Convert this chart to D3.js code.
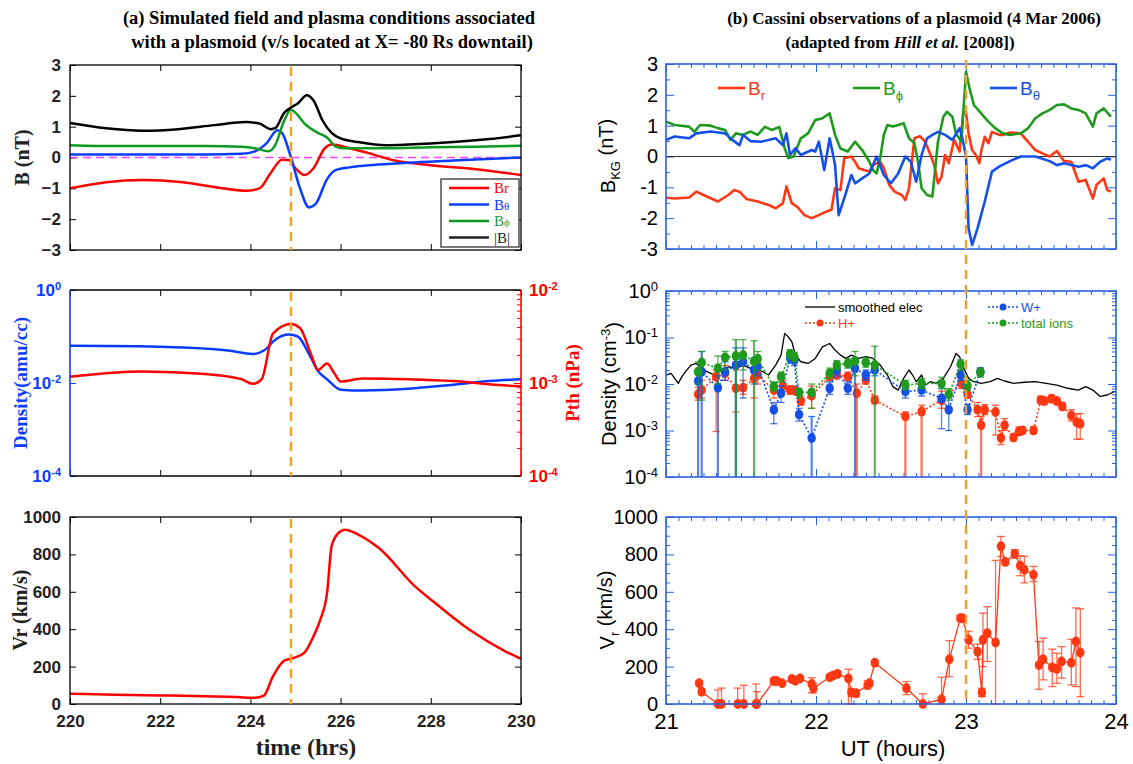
<!DOCTYPE html>
<html>
<head>
<meta charset="utf-8">
<script src="https://cdn.jsdelivr.net/npm/d3@7"></script>
<style>
  body { margin: 0; background: #fff; }
  svg { display: block; }
</style>
</head>
<body>
<div id="chart"></div>
<script>
// ---- (a) simulation, hours 220-230 ----
const simBr = [[220,-1.0],[220.8,-0.8],[221.6,-0.73],[222.5,-0.8],[223.3,-0.98],[223.9,-1.08],[224.2,-1.0],[224.45,-0.5],[224.7,-0.07],[224.85,-0.08],[225.0,-0.35],[225.2,-0.57],[225.4,-0.35],[225.65,0.3],[225.8,0.42],[226.2,0.3],[226.6,0.15],[227.2,-0.1],[228,-0.25],[229,-0.38],[230,-0.57]];
const simBtheta = [[220,0.1],[221,0.1],[222,0.1],[223,0.1],[223.8,0.12],[224.1,0.2],[224.35,0.45],[224.6,0.88],[224.7,0.8],[224.9,0.0],[225.1,-1.0],[225.3,-1.62],[225.45,-1.5],[225.7,-0.7],[225.9,-0.4],[226.2,-0.32],[226.5,-0.27],[227.5,-0.17],[228.5,-0.1],[229.5,-0.03],[230,0.0]];
const simBphi = [[220,0.4],[221,0.37],[222,0.37],[223,0.37],[223.8,0.35],[224.1,0.3],[224.4,0.2],[224.55,0.4],[224.75,1.2],[224.9,1.55],[225.0,1.45],[225.2,1.1],[225.5,0.8],[225.7,0.65],[225.9,0.35],[226.1,0.3],[227,0.3],[228,0.33],[229,0.35],[230,0.38]];
const simBmag = [[220,1.12],[220.8,0.95],[221.6,0.87],[222.4,0.92],[223.2,1.05],[223.9,1.15],[224.2,1.1],[224.45,0.92],[224.55,0.95],[224.75,1.45],[224.9,1.62],[225.05,1.75],[225.25,2.02],[225.4,1.85],[225.6,1.2],[225.8,0.8],[226.0,0.62],[226.4,0.5],[227.0,0.4],[227.5,0.42],[228.5,0.5],[229.3,0.6],[230,0.72]];
const simDensity = [[220,0.063],[221.5,0.062],[222.5,0.058],[223.5,0.05],[224.05,0.042],[224.3,0.05],[224.55,0.085],[224.85,0.11],[225.05,0.1],[225.3,0.042],[225.5,0.018],[225.7,0.012],[226.0,0.0072],[226.5,0.0069],[227.5,0.0075],[228.5,0.0092],[229.3,0.011],[230,0.012]];
const simPth = [[220,1.17e-3],[221.6,1.33e-3],[223,1.25e-3],[223.8,1.1e-3],[224.05,0.98e-3],[224.25,1.1e-3],[224.5,3.4e-3],[224.9,4.3e-3],[225.1,3.9e-3],[225.35,2.0e-3],[225.5,1.38e-3],[225.7,1.62e-3],[225.85,1.3e-3],[226.0,1.04e-3],[226.5,1.12e-3],[227.5,1.1e-3],[228.5,1.05e-3],[229.5,0.95e-3],[230,0.92e-3]];
const simVr = [[220,55],[221,50],[222,46],[223,42],[223.7,37],[224.1,33],[224.3,45],[224.5,148],[224.75,232],[224.95,246],[225.2,275],[225.4,362],[225.55,451],[225.7,594],[225.8,843],[225.95,914],[226.1,932],[226.4,905],[226.85,834],[227.65,629],[228.05,549],[228.85,398],[229.65,282],[230,242]];
const simEventHour = 224.9;
const simHourTicks = [220,222,224,226,228,230];

// ---- (b) Cassini, UT hours 21-24 ----
const obsBr = [[21.0,-1.34],[21.058,-1.36],[21.154,-1.33],[21.202,-1.14],[21.25,-1.25],[21.346,-1.46],[21.418,-1.24],[21.454,-1.09],[21.49,-1.14],[21.538,-1.38],[21.611,-1.46],[21.683,-1.57],[21.731,-1.68],[21.779,-1.52],[21.803,-0.97],[21.839,-1.52],[21.875,-1.63],[21.923,-1.9],[21.971,-2.0],[22.019,-1.9],[22.067,-1.79],[22.103,-1.73],[22.127,-1.03],[22.163,-1.09],[22.188,-0.06],[22.236,0.0],[22.26,-0.17],[22.284,-0.38],[22.32,-0.44],[22.356,-0.49],[22.38,-0.28],[22.428,-0.17],[22.452,-0.38],[22.488,-0.92],[22.524,-1.14],[22.572,-1.25],[22.596,-1.41],[22.62,-1.03],[22.656,0.59],[22.692,0.66],[22.728,0.48],[22.764,0.05],[22.788,-0.28],[22.813,-0.87],[22.837,-0.65],[22.861,0.05],[22.885,-0.22],[22.921,0.54],[22.957,0.16],[22.981,1.4],[23.0,1.45],[23.017,0.75],[23.041,0.21],[23.065,0.05],[23.089,-0.22],[23.101,0.16],[23.125,0.64],[23.149,0.43],[23.173,0.8],[23.221,0.7],[23.245,0.7],[23.293,0.78],[23.365,0.75],[23.413,0.48],[23.462,0.21],[23.51,0.1],[23.558,0.0],[23.606,0.18],[23.654,-0.15],[23.702,-0.17],[23.75,-0.82],[23.798,-0.76],[23.846,-1.36],[23.87,-0.92],[23.918,-0.71],[23.942,-1.09],[23.966,-1.14]];
const obsBtheta = [[21.0,0.54],[21.058,0.65],[21.154,0.59],[21.202,0.75],[21.298,0.81],[21.394,0.75],[21.442,0.54],[21.49,0.37],[21.514,0.7],[21.562,0.5],[21.635,0.48],[21.731,0.59],[21.779,0.37],[21.803,0.75],[21.827,0.05],[21.863,0.27],[21.899,0.05],[21.971,0.21],[21.995,0.16],[22.019,0.48],[22.055,-0.44],[22.091,0.59],[22.127,-0.27],[22.151,-1.9],[22.188,-1.36],[22.236,-0.6],[22.26,-0.87],[22.308,-0.71],[22.356,-0.55],[22.404,0.0],[22.452,-0.6],[22.5,-0.87],[22.548,-0.55],[22.596,0.0],[22.632,-0.17],[22.668,-0.82],[22.704,0.05],[22.74,0.59],[22.776,0.7],[22.813,0.8],[22.861,0.7],[22.909,0.54],[22.957,0.92],[22.981,0.48],[23.0,0.0],[23.017,-2.33],[23.041,-2.87],[23.077,-2.33],[23.125,-1.46],[23.173,-0.49],[23.221,-0.33],[23.293,-0.15],[23.365,0.0],[23.462,0.0],[23.558,-0.15],[23.606,-0.28],[23.654,-0.22],[23.75,-0.33],[23.798,-0.28],[23.846,-0.38],[23.894,-0.17],[23.942,-0.06],[23.966,-0.11]];
const obsBphi = [[21.0,1.13],[21.058,1.02],[21.154,0.97],[21.19,0.8],[21.226,1.02],[21.298,1.0],[21.346,0.92],[21.394,0.86],[21.43,0.54],[21.466,0.75],[21.514,0.7],[21.562,0.81],[21.611,0.7],[21.659,0.96],[21.707,0.86],[21.755,0.96],[21.791,0.27],[21.815,-0.05],[21.851,0.0],[21.899,0.59],[21.947,0.75],[21.995,1.18],[22.043,1.24],[22.091,1.4],[22.127,0.7],[22.163,0.26],[22.212,0.16],[22.26,0.48],[22.308,0.21],[22.356,-0.17],[22.38,-0.44],[22.404,-0.55],[22.428,-0.06],[22.452,0.7],[22.476,1.02],[22.512,0.97],[22.548,1.02],[22.584,1.08],[22.62,0.59],[22.656,0.43],[22.68,-0.17],[22.704,-1.03],[22.74,-1.25],[22.776,-1.3],[22.813,0.48],[22.849,1.29],[22.873,1.45],[22.909,1.29],[22.933,0.75],[22.969,0.48],[23.0,2.75],[23.024,2.2],[23.053,1.67],[23.101,1.4],[23.149,1.13],[23.197,0.91],[23.245,0.75],[23.293,0.7],[23.365,0.75],[23.413,0.91],[23.462,1.24],[23.51,1.4],[23.558,1.51],[23.606,1.67],[23.654,1.69],[23.702,1.56],[23.75,1.51],[23.798,1.4],[23.846,0.97],[23.87,1.4],[23.918,1.56],[23.966,1.29]];
const obsElec = [[21.0,0.0156],[21.034,0.0169],[21.058,0.0132],[21.082,0.0103],[21.106,0.0144],[21.13,0.0184],[21.166,0.0255],[21.202,0.0277],[21.238,0.0217],[21.274,0.0184],[21.322,0.0156],[21.37,0.02],[21.418,0.0235],[21.466,0.0217],[21.514,0.0255],[21.562,0.0217],[21.611,0.02],[21.647,0.0184],[21.683,0.0156],[21.731,0.0255],[21.767,0.0418],[21.791,0.122],[21.815,0.103],[21.839,0.081],[21.863,0.0418],[21.899,0.0301],[21.947,0.0277],[21.995,0.0355],[22.043,0.063],[22.091,0.0743],[22.127,0.0536],[22.163,0.0418],[22.2,0.0355],[22.236,0.0418],[22.284,0.0355],[22.332,0.0386],[22.38,0.0355],[22.428,0.0255],[22.476,0.0156],[22.512,0.0088],[22.548,0.0074],[22.584,0.0132],[22.62,0.02],[22.644,0.0156],[22.668,0.0112],[22.704,0.0156],[22.728,0.0095],[22.764,0.0112],[22.8,0.0103],[22.849,0.0132],[22.897,0.0235],[22.933,0.0454],[22.957,0.0386],[22.981,0.0235],[23.017,0.0132],[23.053,0.0112],[23.101,0.0103],[23.161,0.0112],[23.209,0.0132],[23.257,0.0116],[23.317,0.0103],[23.389,0.0109],[23.462,0.0112],[23.534,0.0103],[23.606,0.0095],[23.678,0.0081],[23.75,0.0074],[23.798,0.0088],[23.846,0.0074],[23.894,0.0054],[23.942,0.0058],[23.99,0.0069]];
// [hour, density, lower, upper]
const obsHplus = [[21.214,0.006,0.0045,0.0085],[21.238,0.0074,0.005,0.012],[21.334,0.0144,0.00095,0.02],[21.394,0.017,0.012,0.025],[21.466,0.0081,0.0025,0.02],[21.514,0.0083,0.006,0.012],[21.587,0.0132,0.005,0.02],[21.611,0.0156,0.01,0.02],[21.719,0.0074,0.005,0.01],[21.779,0.0092,0.007,0.012],[21.827,0.0074,0.006,0.009],[21.863,0.0071,0.006,0.009],[21.899,0.0043,0.0035,0.0055],[21.971,0.0056,0.003,0.009],[22.091,0.0144,0.012,0.018],[22.139,0.0156,0.013,0.019],[22.212,0.0144,0.012,0.018],[22.272,0.0063,0.00001,0.01],[22.332,0.0122,0.01,0.015],[22.392,0.0045,0.0038,0.0055],[22.596,0.002,0.00001,0.0025],[22.704,0.00255,0.00001,0.0035],[22.837,0.0045,0.003,0.007],[22.969,0.0103,0.008,0.014],[23.01,0.006,0.005,0.0075],[23.077,0.0028,0.002,0.004],[23.101,0.0013,0.00001,0.002],[23.125,0.0028,0.0022,0.0036],[23.197,0.0025,0.0008,0.0035],[23.233,0.00069,0.0005,0.001],[23.257,0.0013,0.001,0.0018],[23.317,0.00071,0.0006,0.00085],[23.353,0.00095,0.0008,0.0012],[23.377,0.001,0.00085,0.0012],[23.45,0.001,0.00085,0.0012],[23.498,0.0045,0.0038,0.0055],[23.522,0.0043,0.0036,0.005],[23.57,0.0048,0.004,0.0058],[23.606,0.0043,0.0036,0.005],[23.642,0.0033,0.0028,0.004],[23.702,0.0021,0.0016,0.0028],[23.738,0.0015,0.00065,0.0023],[23.762,0.0014,0.00065,0.0023]];
const obsWplus = [[21.214,0.0116,0.00001,0.02],[21.238,0.0184,0.00001,0.05],[21.346,0.0083,0.00001,0.015],[21.394,0.0184,0.012,0.03],[21.466,0.0255,0.00001,0.06],[21.514,0.03,0.005,0.06],[21.587,0.02,0.01,0.03],[21.611,0.0235,0.015,0.035],[21.719,0.0028,0.0014,0.004],[21.767,0.0063,0.004,0.009],[21.827,0.0367,0.028,0.045],[21.856,0.0326,0.025,0.04],[21.887,0.0022,0.0016,0.003],[21.971,0.00069,0.00001,0.002],[22.091,0.0081,0.006,0.011],[22.139,0.02,0.015,0.025],[22.212,0.0081,0.006,0.011],[22.26,0.0217,0.00001,0.03],[22.332,0.0156,0.012,0.02],[22.392,0.02,0.015,0.025],[22.596,0.0069,0.005,0.009],[22.704,0.0074,0.0055,0.0095],[22.837,0.0049,0.0011,0.008],[22.885,0.0028,0.001,0.005],[22.964,0.0156,0.012,0.02],[23.01,0.0028,0.0022,0.0036],[23.096,0.0184,0.015,0.022]];
const obsIons = [[21.214,0.0184,0.01,0.03],[21.238,0.029,0.0045,0.05],[21.346,0.0217,0.01,0.04],[21.394,0.0373,0.02,0.05],[21.466,0.04,0.00001,0.09],[21.514,0.0418,0.02,0.09],[21.587,0.031,0.00001,0.085],[21.611,0.035,0.02,0.05],[21.719,0.0088,0.007,0.011],[21.767,0.0144,0.011,0.018],[21.827,0.044,0.035,0.055],[21.856,0.0386,0.03,0.048],[21.887,0.0066,0.005,0.008],[21.971,0.0066,0.003,0.01],[22.091,0.017,0.013,0.022],[22.139,0.0255,0.02,0.032],[22.212,0.0277,0.022,0.035],[22.26,0.031,0.015,0.05],[22.332,0.029,0.023,0.036],[22.392,0.0255,0.00001,0.065],[22.596,0.0095,0.0075,0.012],[22.704,0.0103,0.008,0.013],[22.837,0.0103,0.008,0.014],[22.885,0.006,0.0045,0.008],[22.964,0.0265,0.02,0.033],[23.01,0.0092,0.007,0.012],[23.096,0.0176,0.014,0.022]];
// [hour, Vr, lower, upper]
const obsVr = [[21.221,111,100,125],[21.238,66,50,80],[21.346,0,0,75],[21.37,0,0,85],[21.478,0,0,85],[21.519,0,0,100],[21.599,0,0,107],[21.606,0,0,66],[21.719,123,110,135],[21.738,123,110,135],[21.774,111,100,120],[21.839,134,120,145],[21.863,125,115,135],[21.894,137,125,148],[21.971,107,60,140],[21.983,84,60,110],[22.091,143,130,155],[22.115,152,140,165],[22.144,161,150,172],[22.216,137,0,186],[22.236,61,0,80],[22.267,57,40,75],[22.344,102,80,125],[22.356,111,95,125],[22.392,221,210,232],[22.603,84,50,120],[22.712,0,0,55],[22.837,25,0,143],[22.889,239,146,339],[22.962,459,445,473],[22.976,459,445,473],[23.017,343,298,389],[23.077,280,239,320],[23.106,61,39,84],[23.113,343,200,486],[23.142,379,227,520],[23.197,329,0,768],[23.233,843,789,896],[23.262,759,748,771],[23.325,804,780,825],[23.361,739,686,793],[23.389,718,648,790],[23.45,691,655,736],[23.486,209,79,334],[23.514,239,129,352],[23.575,195,93,293],[23.606,188,111,271],[23.637,227,138,307],[23.702,221,102,346],[23.733,334,93,514],[23.762,275,39,509]];
const obsEventHour = 23.0;
const obsHourTicks = [21,22,23,24];

// ---- layout ----
const W = 1133, H = 764;
const svg = d3.select('#chart').append('svg').attr('width', W).attr('height', H);

const SERIF_B = 'font-family:"Liberation Serif","Times New Roman",serif;font-weight:bold;';
const SANS = 'font-family:"Liberation Sans",Arial,sans-serif;';
const RED = '#ff0000', BLUE = '#0a3cff', GREEN = '#0c9a20', ORANGE = '#f5a01e';
const ORED = '#ff3814', OGREEN = '#1f9a1f', OBLUE = '#1450e6', FRAME = '#2a62e0';

const xL = d3.scaleLinear().domain([220, 230]).range([70, 521]);
const xR = d3.scaleLinear().domain([21, 24]).range([666, 1116]);
const rowsL = [[65, 250], [290, 476], [517, 704]];
const rowsR = [[64, 249], [291, 477], [517, 704]];
const intFmt = d3.format('d');

function axisG(axis, tx, ty, color, textStyle, textColor) {
  const g = svg.append('g').attr('transform', `translate(${tx},${ty})`).call(axis);
  g.select('.domain').remove();
  g.selectAll('.tick line').attr('stroke', color).attr('stroke-width', 1);
  g.selectAll('.tick text').attr('style', textStyle).attr('fill', textColor || '#000');
  return g;
}

function pow10Labels(g, supSize) {
  g.selectAll('.tick text').each(function (d) {
    const e = Math.round(Math.log10(d));
    const t = d3.select(this).text(null);
    t.append('tspan').text('10');
    t.append('tspan').attr('dy', '-0.55em').style('font-size', supSize + 'px').text(e === 0 ? '0' : '-' + Math.abs(e));
  });
}

function minorLog(lo, hi) {
  const v = [];
  for (let e = lo; e < hi; e++) for (let m = 2; m <= 9; m++) v.push(m * Math.pow(10, e));
  return v;
}

function drawLine(data, x, y, color, width, curve, dash) {
  svg.append('path').datum(data)
    .attr('fill', 'none').attr('stroke', color).attr('stroke-width', width)
    .attr('stroke-linejoin', 'round')
    .attr('stroke-dasharray', dash || null)
    .attr('d', d3.line().x(d => x(d[0])).y(d => y(d[1])).curve(curve || d3.curveLinear));
}

function rotLabel(x, y, style, fill) {
  return svg.append('text').attr('transform', `translate(${x},${y}) rotate(-90)`)
    .attr('text-anchor', 'middle').attr('style', style).attr('fill', fill || '#000');
}

// ---- titles ----
[['(a) Simulated field and plasma conditions associated', 329, 24],
 ['with a plasmoid (v/s located at X= -80 Rs downtail)', 332, 48]].forEach(([t, x, y]) =>
  svg.append('text').attr('x', x).attr('y', y).attr('text-anchor', 'middle')
    .attr('style', SERIF_B + 'font-size:18.5px;').text(t));
svg.append('text').attr('x', 914).attr('y', 24).attr('text-anchor', 'middle')
  .attr('style', SERIF_B + 'font-size:17px;').text('(b) Cassini observations of a plasmoid (4 Mar 2006)');
const t2 = svg.append('text').attr('x', 900).attr('y', 48).attr('text-anchor', 'middle')
  .attr('style', SERIF_B + 'font-size:17px;');
t2.append('tspan').text('(adapted from ');
t2.append('tspan').style('font-style', 'italic').text('Hill et al.');
t2.append('tspan').text(' [2008])');

// ---- left panels common ----
const LT = SANS + 'font-weight:bold;font-size:17px;';
const simCurve = d3.curveMonotoneX;

rowsL.forEach(([top, bot], i) => {
  axisG(d3.axisBottom(xL).tickValues(simHourTicks).tickSize(-6).tickPadding(11)
    .tickFormat(i === 2 ? intFmt : ''), 0, bot, '#000', LT, '#222');
  axisG(d3.axisTop(xL).tickValues(simHourTicks).tickSize(-6).tickFormat(''), 0, top, '#000', LT);
});

// panel a1: B
const yB = d3.scaleLinear().domain([-3, 3]).range([250, 65]);
axisG(d3.axisLeft(yB).tickValues(d3.range(-3, 4)).tickSize(-6).tickPadding(9).tickFormat(intFmt), 70, 0, '#000', LT, '#222');
axisG(d3.axisRight(yB).tickValues(d3.range(-3, 4)).tickSize(-6).tickFormat(''), 521, 0, '#000', LT);
svg.append('line').attr('x1', 70).attr('x2', 521).attr('y1', yB(0)).attr('y2', yB(0))
  .attr('stroke', '#ff44ff').attr('stroke-width', 1.6).attr('stroke-dasharray', '8,5');
drawLine(simBr, xL, yB, RED, 2.5, simCurve);
drawLine(simBtheta, xL, yB, BLUE, 2.5, simCurve);
drawLine(simBphi, xL, yB, GREEN, 2.5, simCurve);
drawLine(simBmag, xL, yB, '#000', 2.5, simCurve);
svg.append('rect').attr('x', 70).attr('y', 65).attr('width', 451).attr('height', 185)
  .attr('fill', 'none').attr('stroke', '#000').attr('stroke-width', 1.3);
rotLabel(22, yB(0), SERIF_B + 'font-size:20px;', '#222').attr('dy', '0.35em').text('B (nT)');

// legend a1
const leg = svg.append('g');
leg.append('rect').attr('x', 441).attr('y', 179).attr('width', 78).attr('height', 68)
  .attr('fill', '#fff').attr('stroke', '#222').attr('stroke-width', 1.2);
[['B', 'r', RED], ['B', 'θ', BLUE], ['B', 'ϕ', '#1a9a4a'], ['|B|', '', '#222']].forEach(([b, s, c], k) => {
  const y = 188 + k * 16.5;
  leg.append('line').attr('x1', 449).attr('x2', 489).attr('y1', y).attr('y2', y)
    .attr('stroke', c === '#1a9a4a' ? GREEN : c).attr('stroke-width', 2.5);
  const t = leg.append('text').attr('x', 494).attr('y', y + 5)
    .attr('style', 'font-family:"Liberation Serif","Times New Roman",serif;font-size:15px;').attr('fill', c);
  t.append('tspan').text(b);
  if (s) t.append('tspan').style('font-size', s === 'r' ? '15px' : '11px').text(s);
});

// panel a2: density / Pth
const yDen = d3.scaleLog().domain([1e-4, 1]).range([476, 290]);
const yPth = d3.scaleLog().domain([1e-4, 1e-2]).range([476, 290]);
const gdl = axisG(d3.axisLeft(yDen).tickValues([1e-4, 1e-2, 1]).tickSize(-6).tickPadding(9), 70, 0, BLUE, LT, BLUE);
pow10Labels(gdl, 11);
const gpr = axisG(d3.axisRight(yPth).tickValues([1e-4, 1e-3, 1e-2]).tickSize(-7).tickPadding(8), 521, 0, RED, LT, RED);
pow10Labels(gpr, 11);
axisG(d3.axisRight(yPth).tickValues(minorLog(-4, -2)).tickSize(-4).tickFormat(''), 521, 0, RED, LT);
drawLine(simDensity, xL, yDen, BLUE, 2.5, simCurve);
drawLine(simPth, xL, yPth, RED, 2.5, simCurve);
svg.append('line').attr('x1', 70).attr('x2', 521).attr('y1', 290).attr('y2', 290).attr('stroke', '#000').attr('stroke-width', 1.3);
svg.append('line').attr('x1', 70).attr('x2', 521).attr('y1', 476).attr('y2', 476).attr('stroke', '#000').attr('stroke-width', 1.3);
svg.append('line').attr('x1', 70).attr('x2', 70).attr('y1', 290).attr('y2', 476).attr('stroke', BLUE).attr('stroke-width', 1.6);
svg.append('line').attr('x1', 521).attr('x2', 521).attr('y1', 290).attr('y2', 476).attr('stroke', RED).attr('stroke-width', 1.6);
rotLabel(20, 383, SERIF_B + 'font-size:19px;', BLUE).attr('dy', '0.35em').text('Density(amu/cc)');
rotLabel(572, 383, SERIF_B + 'font-size:19px;', RED).attr('dy', '0.35em').text('Pth (nPa)');

// panel a3: Vr
const yV = d3.scaleLinear().domain([0, 1000]).range([704, 517]);
axisG(d3.axisLeft(yV).tickValues(d3.range(0, 1001, 200)).tickSize(-6).tickPadding(9).tickFormat(intFmt), 70, 0, '#000', LT, '#222');
axisG(d3.axisRight(yV).tickValues(d3.range(0, 1001, 200)).tickSize(-6).tickFormat(''), 521, 0, '#000', LT);
drawLine(simVr, xL, yV, RED, 2.5, simCurve);
svg.append('rect').attr('x', 70).attr('y', 517).attr('width', 451).attr('height', 187)
  .attr('fill', 'none').attr('stroke', '#000').attr('stroke-width', 1.3);
rotLabel(20, 610, SERIF_B + 'font-size:20px;', '#222').attr('dy', '0.35em').text('Vr (km/s)');
svg.append('text').attr('x', 306).attr('y', 755).attr('text-anchor', 'middle')
  .attr('style', SERIF_B + 'font-size:24px;').attr('fill', '#222').text('time (hrs)');

// orange event line, left (per panel)
rowsL.forEach(([top, bot]) => {
  svg.append('line').attr('x1', xL(simEventHour)).attr('x2', xL(simEventHour)).attr('y1', top + 2).attr('y2', bot)
    .attr('stroke', ORANGE).attr('stroke-width', 2.4).attr('stroke-dasharray', '9,6');
});

// ---- right panels common ----
const RT = SANS + 'font-size:20px;';
const minorHours = d3.range(0, 37).map(i => 21 + i / 12);
rowsR.forEach(([top, bot], i) => {
  axisG(d3.axisBottom(xR).tickValues(minorHours).tickSize(-4).tickFormat(''), 0, bot, FRAME, RT);
  axisG(d3.axisTop(xR).tickValues(minorHours).tickSize(-4).tickFormat(''), 0, top, FRAME, RT);
  axisG(d3.axisBottom(xR).tickValues(obsHourTicks).tickSize(-8).tickPadding(9)
    .tickFormat(i === 2 ? intFmt : ''), 0, bot, FRAME, SANS + 'font-size:22px;', '#000');
  axisG(d3.axisTop(xR).tickValues(obsHourTicks).tickSize(-8).tickFormat(''), 0, top, FRAME, RT);
});

function rightY(scale, major, minor, fmt) {
  const g = axisG(d3.axisLeft(scale).tickValues(major).tickSize(-8).tickPadding(8).tickFormat(fmt || null), 666, 0, FRAME, RT, '#000');
  axisG(d3.axisRight(scale).tickValues(major).tickSize(-8).tickFormat(''), 1116, 0, FRAME, RT);
  axisG(d3.axisLeft(scale).tickValues(minor).tickSize(-4).tickFormat(''), 666, 0, FRAME, RT);
  axisG(d3.axisRight(scale).tickValues(minor).tickSize(-4).tickFormat(''), 1116, 0, FRAME, RT);
  return g;
}
function rightFrame(top, bot) {
  svg.append('rect').attr('x', 666).attr('y', top).attr('width', 450).attr('height', bot - top)
    .attr('fill', 'none').attr('stroke', FRAME).attr('stroke-width', 1.6);
}

// panel b1: B_KG
const yBo = d3.scaleLinear().domain([-3, 3]).range([249, 64]);
rightY(yBo, d3.range(-3, 4), d3.range(-2.5, 3, 1), d => intFmt(d).replace('−', '-'));
svg.append('line').attr('x1', 666).attr('x2', 1116).attr('y1', yBo(0)).attr('y2', yBo(0)).attr('stroke', '#333').attr('stroke-width', 1);
drawLine(obsBr, xR, yBo, ORED, 2.6);
drawLine(obsBphi, xR, yBo, OGREEN, 2.6);
drawLine(obsBtheta, xR, yBo, OBLUE, 2.6);
rightFrame(64, 249);
const bl = rotLabel(608, 156, SANS + 'font-size:20px;').attr('dy', '0.35em');
bl.append('tspan').text('B');
bl.append('tspan').attr('dy', '0.35em').style('font-size', '13px').text('KG');
bl.append('tspan').attr('dy', '-0.35em').text(' (nT)');
[['r', ORED, 718], ['ϕ', OGREEN, 853], ['θ', OBLUE, 990]].forEach(([s, c, x]) => {
  svg.append('line').attr('x1', x).attr('x2', x + 27).attr('y1', 88).attr('y2', 88).attr('stroke', c).attr('stroke-width', 2.6);
  const t = svg.append('text').attr('x', x + 30).attr('y', 95).attr('fill', c).attr('style', SANS + 'font-size:19px;');
  t.append('tspan').text('B');
  t.append('tspan').attr('dy', '0.35em').style('font-size', '13px').text(s);
});

// panel b2: density
const yDo = d3.scaleLog().domain([1e-4, 1]).range([477, 291]).clamp(true);
const gdo = rightY(yDo, [1e-4, 1e-3, 1e-2, 1e-1, 1], minorLog(-4, 0));
pow10Labels(gdo, 13);
drawLine(obsElec, xR, yDo, '#000', 1.3);
function ionSeries(data, color) {
  const g = svg.append('g');
  g.selectAll('line.err').data(data).join('line')
    .attr('x1', d => xR(d[0])).attr('x2', d => xR(d[0]))
    .attr('y1', d => yDo(d[2])).attr('y2', d => yDo(d[3]))
    .attr('stroke', color).attr('stroke-width', d => d[2] < 1e-4 ? 2.2 : 1.3).attr('opacity', 0.7);
  g.selectAll('line.cap').data(data.flatMap(d => d[2] < 1e-4 ? [[d[0], d[3]]] : [[d[0], d[2]], [d[0], d[3]]])).join('line')
    .attr('x1', d => xR(d[0]) - 3.5).attr('x2', d => xR(d[0]) + 3.5)
    .attr('y1', d => yDo(d[1])).attr('y2', d => yDo(d[1]))
    .attr('stroke', color).attr('stroke-width', 1.3).attr('opacity', 0.8);
  drawLine(data, xR, yDo, color, 1.6, d3.curveLinear, '2,2');
  svg.append('g').selectAll('ellipse').data(data).join('ellipse')
    .attr('cx', d => xR(d[0])).attr('cy', d => yDo(d[1])).attr('rx', 4.2).attr('ry', 5)
    .attr('fill', color);
}
ionSeries(obsHplus, ORED);
ionSeries(obsWplus, OBLUE);
ionSeries(obsIons, OGREEN);
rightFrame(291, 477);
const dl = rotLabel(609, 384, SANS + 'font-size:20px;').attr('dy', '0.35em');
dl.append('tspan').text('Density (cm');
dl.append('tspan').attr('dy', '-0.5em').style('font-size', '13px').text('-3');
dl.append('tspan').attr('dy', '0.5em').text(')');
// legend b2
const LG = SANS + 'font-size:13px;';
function legItem(x, y, color, label, dotted) {
  svg.append('line').attr('x1', x).attr('x2', x + 30).attr('y1', y).attr('y2', y)
    .attr('stroke', color).attr('stroke-width', dotted ? 1.6 : 1.3).attr('stroke-dasharray', dotted ? '2,2' : null);
  if (dotted) svg.append('circle').attr('cx', x + 15).attr('cy', y).attr('r', 3.5).attr('fill', color);
  svg.append('text').attr('x', x + 33).attr('y', y + 4.5).attr('fill', color).attr('style', LG).text(label);
}
legItem(805, 307, '#000', 'smoothed elec', false);
legItem(805, 323, ORED, 'H+', true);
legItem(988, 307, OBLUE, 'W+', true);
legItem(988, 323, OGREEN, 'total ions', true);

// panel b3: Vr
const yVo = d3.scaleLinear().domain([0, 1000]).range([704, 517]);
rightY(yVo, d3.range(0, 1001, 200), d3.range(50, 1000, 50).filter(v => v % 200), intFmt);
const gv = svg.append('g');
gv.selectAll('line.err').data(obsVr).join('line')
  .attr('x1', d => xR(d[0])).attr('x2', d => xR(d[0]))
  .attr('y1', d => yVo(d[2])).attr('y2', d => yVo(d[3]))
  .attr('stroke', ORED).attr('stroke-width', 1.3).attr('opacity', 0.75);
gv.selectAll('line.cap').data(obsVr.flatMap(d => [[d[0], d[2]], [d[0], d[3]]])).join('line')
  .attr('x1', d => xR(d[0]) - 4).attr('x2', d => xR(d[0]) + 4)
  .attr('y1', d => yVo(d[1])).attr('y2', d => yVo(d[1]))
  .attr('stroke', ORED).attr('stroke-width', 1.3).attr('opacity', 0.75);
drawLine(obsVr, xR, yVo, ORED, 1.3);
gv.selectAll('ellipse').data(obsVr).join('ellipse')
  .attr('cx', d => xR(d[0])).attr('cy', d => yVo(d[1])).attr('rx', 4.2).attr('ry', 5).attr('fill', ORED);
rightFrame(517, 704);
const vl = rotLabel(607, 610, SANS + 'font-size:20px;').attr('dy', '0.35em');
vl.append('tspan').text('V');
vl.append('tspan').attr('dy', '0.35em').style('font-size', '13px').text('r');
vl.append('tspan').attr('dy', '-0.35em').text(' (km/s)');
svg.append('text').attr('x', 893).attr('y', 756).attr('text-anchor', 'middle')
  .attr('style', SANS + 'font-size:22px;').text('UT (hours)');

// orange event line, right (continuous)
svg.append('line').attr('x1', xR(obsEventHour)).attr('x2', xR(obsEventHour)).attr('y1', 60).attr('y2', 704)
  .attr('stroke', ORANGE).attr('stroke-width', 2.4).attr('stroke-dasharray', '9,6');
</script>
</body>
</html>
